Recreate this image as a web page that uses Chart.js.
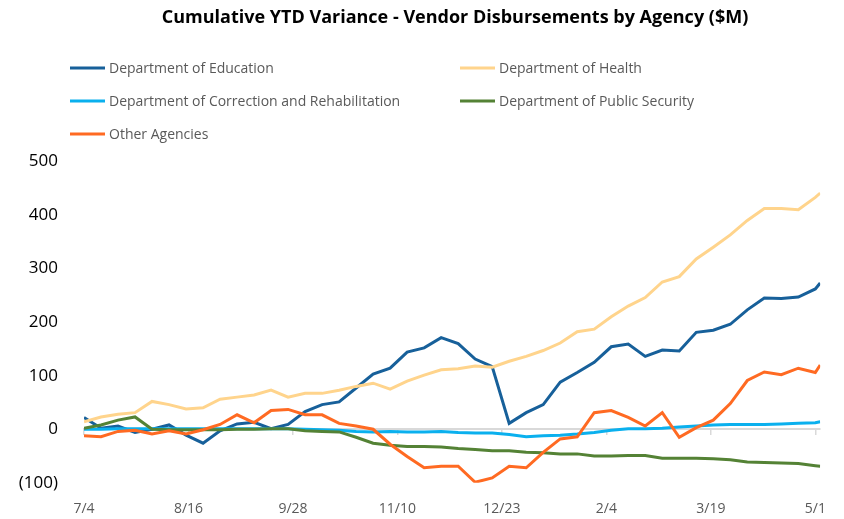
<!DOCTYPE html>
<html>
<head>
<meta charset="utf-8">
<script src="https://cdn.jsdelivr.net/npm/chart.js@4.4.1/dist/chart.umd.min.js"></script>
<style>
  html, body { margin: 0; padding: 0; background: #fff; }
  #wrap { width: 844px; height: 519px; }
</style>
</head>
<body>
<div id="wrap"><canvas id="ytd-chart"></canvas></div>
<script>
// days since 7/4 for each weekly data point (last one is a partial week)
const days = [0, 7, 14, 21, 28, 35, 42, 49, 56, 63, 70, 77, 84, 91, 98, 105, 112, 119, 126, 133,
    140, 147, 154, 161, 168, 175, 182, 189, 196, 203, 210, 217, 224, 231, 238, 245, 252, 259,
    266, 273, 280, 287, 294, 301, 303];

// x axis ticks (every 43 days)
const tickDays = [0, 43, 86, 129, 172, 215, 258, 301];
const tickLabels = ['7/4', '8/16', '9/28', '11/10', '12/23', '2/4', '3/19', '5/1'];

// series, $M
const education = [22, 2, 6, -6, 0, 8, -11, -26, -3, 10, 13, 1, 9, 33, 46, 51, 77, 103, 114, 144,
    152, 171, 160, 131, 117, 11, 31, 46, 88, 106, 125, 154, 159, 136, 148, 146, 181, 185,
    196, 223, 245, 244, 247, 262, 273];
const health = [14, 23, 28, 31, 52, 46, 38, 40, 56, 60, 64, 73, 60, 67, 67, 73, 80, 86, 75, 90,
    101, 111, 113, 118, 116, 127, 136, 147, 161, 182, 187, 210, 230, 246, 275, 285, 318, 340,
    363, 390, 412, 412, 410, 433, 441];
const correction = [0, 0, 1, 1, 1, 1, 1, 1, 1, 1, 1, 1, 1, 0, -1, -2, -4, -5, -4, -5,
    -5, -4, -6, -7, -7, -10, -14, -12, -11, -9, -6, -2, 1, 1, 2, 4, 6, 8,
    9, 9, 9, 10, 11, 12, 14];
const publicSecurity = [2, 8, 17, 23, 0, -1, -1, -1, -1, 0, 0, 1, 1, -3, -4, -5, -15, -26, -30, -32,
    -32, -33, -36, -38, -40, -40, -43, -44, -46, -46, -50, -50, -49, -49, -54, -54, -54, -55,
    -57, -61, -62, -63, -64, -68, -69];
const otherAgencies = [-12, -14, -4, -2, -9, -3, -9, -1, 9, 27, 12, 35, 37, 27, 27, 11, 6, 0, -28, -51,
    -72, -69, -69, -99, -91, -69, -72, -43, -18, -14, 31, 35, 22, 6, 31, -15, 3, 17,
    48, 91, 107, 102, 114, 106, 120];

const seriesNames = ['Department of Education', 'Department of Health',
    'Department of Correction and Rehabilitation', 'Department of Public Security', 'Other Agencies'];
const seriesColors = ['#17609A', '#FFD48C', '#0AB0EE', '#548235', '#FF6A22'];
const seriesValues = [education, health, correction, publicSecurity, otherAgencies];

function toPoints(vals) {
    return vals.map((v, i) => ({ x: days[i], y: v }));
}

const datasets = seriesValues.map((vals, k) => ({
    label: seriesNames[k],
    data: toPoints(vals),
    borderColor: seriesColors[k],
    backgroundColor: seriesColors[k],
    borderWidth: 3,
    pointRadius: 0,
    tension: 0,
    order: 4 - k
}));

// title + two column legend drawn at fixed spots
const headerPlugin = {
    id: 'header',
    afterDraw(chart) {
        const ctx = chart.ctx;
        ctx.save();
        ctx.fillStyle = '#000';
        ctx.font = 'bold 18px "Open Sans"';
        ctx.textAlign = 'center';
        ctx.textBaseline = 'middle';
        ctx.fillText('Cumulative YTD Variance - Vendor Disbursements by Agency ($M)', 455, 18);

        const cols = [70, 460];
        const rows = [68, 101, 134];
        ctx.font = '14px "Open Sans"';
        ctx.textAlign = 'left';
        seriesNames.forEach((name, k) => {
            const x = cols[k % 2];
            const y = rows[Math.floor(k / 2)];
            ctx.strokeStyle = seriesColors[k];
            ctx.lineWidth = 3;
            ctx.beginPath();
            ctx.moveTo(x, y);
            ctx.lineTo(x + 35, y);
            ctx.stroke();
            ctx.fillStyle = '#595959';
            ctx.fillText(name, x + 39, y + 1);
        });
        ctx.restore();
    }
};

function setTicks(scale) {
    scale.ticks = tickDays.map(v => ({ value: v }));
}

const config = {
    type: 'line',
    data: { datasets: datasets },
    options: {
        responsive: true,
        maintainAspectRatio: false,
        animation: false,
        layout: { padding: { top: 161.5, right: 16, bottom: 0, left: 0 } },
        plugins: {
            legend: { display: false },
            title: { display: false },
            tooltip: { enabled: false }
        },
        scales: {
            x: {
                type: 'linear',
                min: 0,
                max: 303,
                afterBuildTicks: setTicks,
                afterFit: function (scale) { scale.height = 30.3; },
                grid: { display: false, drawTicks: false },
                border: { display: false },
                ticks: {
                    padding: 18,
                    color: '#595959',
                    font: { family: 'Open Sans', size: 14 },
                    maxRotation: 0,
                    autoSkip: false,
                    callback: function (v) {
                        const i = tickDays.indexOf(v);
                        return i >= 0 ? tickLabels[i] : '';
                    }
                }
            },
            xZero: {
                type: 'linear',
                axis: 'x',
                position: { y: 0 },
                min: 0,
                max: 303,
                afterBuildTicks: setTicks,
                grid: { display: true, drawOnChartArea: false, drawTicks: true, tickLength: 5, color: '#d9d9d9', lineWidth: 1.5 },
                border: { display: true, color: '#d9d9d9', width: 2 },
                ticks: { callback: () => '' }
            },
            y: {
                min: -100,
                max: 500,
                afterFit: function (scale) { scale.width = 84; },
                grid: { display: false, drawTicks: false, tickLength: 0 },
                border: { display: false },
                ticks: {
                    stepSize: 100,
                    padding: 26,
                    color: '#000',
                    font: { family: 'Open Sans', size: 17 },
                    callback: function (v) {
                        return v < 0 ? '(' + Math.abs(v) + ')' : v;
                    }
                }
            }
        }
    },
    plugins: [headerPlugin]
};

const context = document.getElementById('ytd-chart').getContext('2d');
const ytdChart = new Chart(context, config);
</script>
</body>
</html>
